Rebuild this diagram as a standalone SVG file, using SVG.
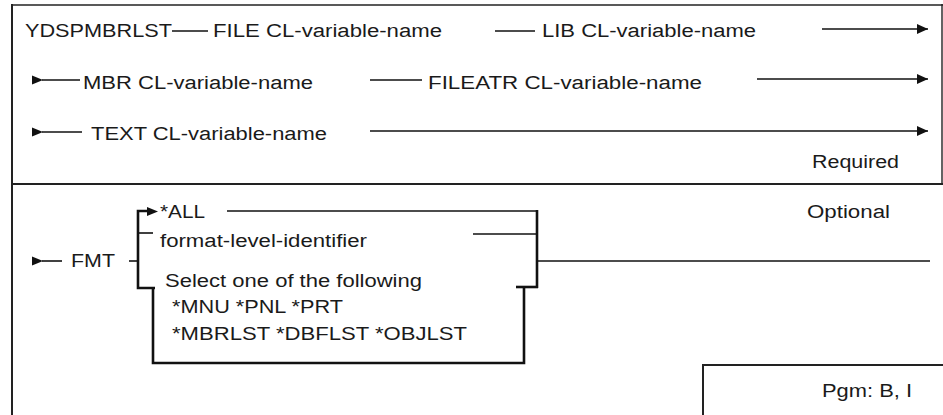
<svg xmlns="http://www.w3.org/2000/svg" width="943" height="415" viewBox="0 0 943 415">
<defs>
<style>
text{font-family:"Liberation Sans",Arial,sans-serif;font-size:18px;fill:#1a1a1a}
.ln{stroke:#111;stroke-width:1.6;fill:none}
.tk{stroke:#111;stroke-width:2.6;fill:none}
.fr{stroke:#222;stroke-width:2;fill:none}
.ah{fill:#111}
</style>
<marker id="arr" markerWidth="12" markerHeight="10" refX="11" refY="5" orient="auto" markerUnits="userSpaceOnUse">
<path d="M0,0 L11,5 L0,10 Z" class="ah"/>
</marker>
</defs>
<rect width="943" height="415" fill="#fff"/>
<g id="frame">
<line class="fr" x1="11" y1="5" x2="943" y2="5" style="stroke-width:1.6"/>
<line class="fr" x1="12" y1="4" x2="12" y2="415"/>
<line class="fr" x1="942" y1="4" x2="942" y2="184" style="stroke-width:1.4"/>
<line class="fr" x1="12" y1="184" x2="943" y2="184"/>
</g>
<g id="connectors">
<line class="ln" x1="172" y1="31" x2="208" y2="31"/>
<line class="ln" x1="495" y1="31" x2="535" y2="31"/>
<line class="ln" x1="822" y1="29" x2="928" y2="29" marker-end="url(#arr)"/>
<path class="ah" d="M32,75.5 L43,80 L32,84.5 Z"/>
<line class="ln" x1="42" y1="80" x2="80" y2="80"/>
<line class="ln" x1="370" y1="80" x2="422" y2="80"/>
<line class="ln" x1="757" y1="79" x2="928" y2="79" marker-end="url(#arr)"/>
<path class="ah" d="M32,127.5 L43,132 L32,136.5 Z"/>
<line class="ln" x1="42" y1="132" x2="82" y2="132"/>
<line class="ln" x1="370" y1="131" x2="928" y2="131" marker-end="url(#arr)"/>
<path class="ah" d="M32,256.5 L43,261 L32,265.5 Z"/>
<line class="ln" x1="42" y1="261" x2="62" y2="261"/>
<line class="ln" x1="129" y1="261" x2="138" y2="261"/>
<polyline class="tk" points="148,211 138,211 138,288 155,288"/>
<path class="ah" d="M147,207 L158,211.5 L147,216 Z"/>
<line class="ln" x1="138" y1="233" x2="153" y2="233"/>
<polyline class="tk" points="153,288 153,363 524,363 524,287"/>
<line class="ln" x1="227" y1="211" x2="537" y2="211"/>
<line class="tk" x1="537" y1="210" x2="537" y2="288"/>
<line class="ln" x1="473" y1="234" x2="537" y2="234"/>
<line class="tk" x1="516" y1="287" x2="538" y2="287"/>
<line class="ln" x1="537" y1="261" x2="930" y2="261"/>
</g>
<g id="n-command"><text x="25" y="37" textLength="147" lengthAdjust="spacingAndGlyphs">YDSPMBRLST</text></g>
<g id="n-file"><text x="213" y="37" textLength="229" lengthAdjust="spacingAndGlyphs">FILE CL-variable-name</text></g>
<g id="n-lib"><text x="542" y="37" textLength="214" lengthAdjust="spacingAndGlyphs">LIB CL-variable-name</text></g>
<g id="n-mbr"><text x="83" y="89" textLength="230" lengthAdjust="spacingAndGlyphs">MBR CL-variable-name</text></g>
<g id="n-fileatr"><text x="428" y="89" textLength="274" lengthAdjust="spacingAndGlyphs">FILEATR CL-variable-name</text></g>
<g id="n-text"><text x="91" y="140" textLength="236" lengthAdjust="spacingAndGlyphs">TEXT CL-variable-name</text></g>
<g id="n-required"><text x="812" y="168" textLength="87" lengthAdjust="spacingAndGlyphs">Required</text></g>
<g id="n-optional"><text x="807" y="218" textLength="83" lengthAdjust="spacingAndGlyphs">Optional</text></g>
<g id="n-fmt"><text x="71" y="267" textLength="44" lengthAdjust="spacingAndGlyphs">FMT</text></g>
<g id="n-all"><text x="160" y="218" textLength="45" lengthAdjust="spacingAndGlyphs">*ALL</text></g>
<g id="n-fli"><text x="160" y="247" textLength="207" lengthAdjust="spacingAndGlyphs">format-level-identifier</text></g>
<g id="n-select">
<text x="165" y="287" textLength="257" lengthAdjust="spacingAndGlyphs">Select one of the following</text>
<text x="172" y="313" textLength="171" lengthAdjust="spacingAndGlyphs">*MNU *PNL *PRT</text>
<text x="172" y="340" textLength="295" lengthAdjust="spacingAndGlyphs">*MBRLST *DBFLST *OBJLST</text>
</g>
<g id="n-pgm">
<polyline class="fr" points="703,415 703,365 943,365"/>
<text x="822" y="397" textLength="90" lengthAdjust="spacingAndGlyphs">Pgm: B, I</text>
</g>
</svg>
